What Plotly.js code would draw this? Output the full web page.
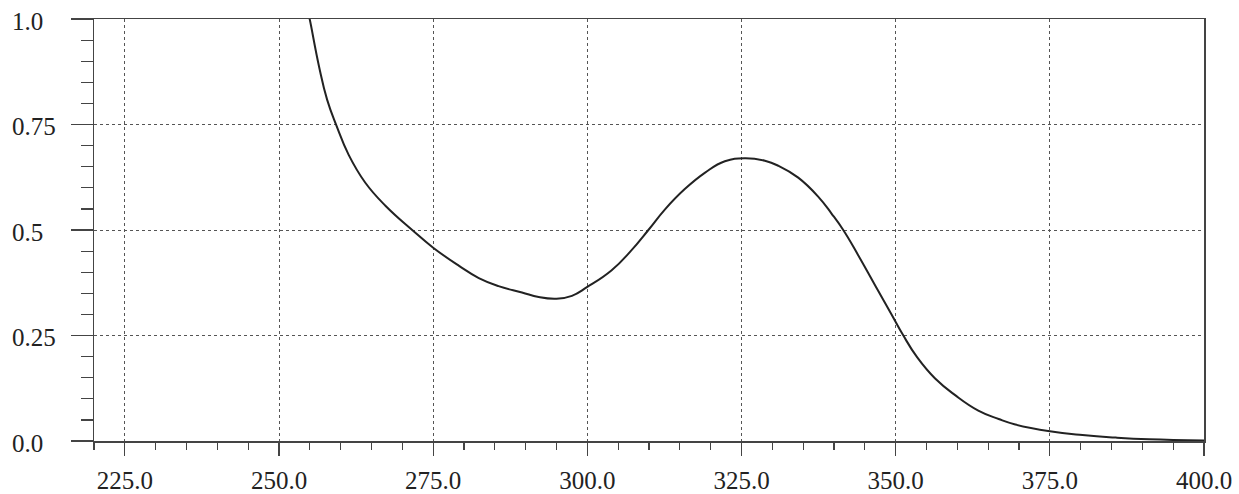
<!DOCTYPE html>
<html>
<head>
<meta charset="utf-8">
<script src="https://cdn.plot.ly/plotly-3.0.1.min.js"></script>
<style>html,body{margin:0;padding:0;background:#fff;}#chart{width:1239px;height:494px;}</style>
</head>
<body>
<div id="chart"></div>
<script>
// Absorption spectrum (wavelength, absorbance)
const wavelength = [254.8, 255.0, 256.5, 257.8, 259.3, 261.3, 264.0, 267.3, 271.6, 275.0,
  279.2, 282.4, 285.6, 289.4, 292.1, 295.0, 297.5, 300.0, 303.9, 307.1,
  309.9, 312.6, 315.8, 319.1, 322.3, 325.6, 328.8, 331.0, 334.2, 337.5,
  339.6, 341.5, 343.9, 346.7, 349.4, 351.2, 353.5, 356.4, 359.7, 363.4,
  366.7, 369.4, 375.0, 380.3, 385.7, 391.1, 400.0];
const absorbance = [1.01, 0.998, 0.887, 0.809, 0.748, 0.678, 0.612, 0.557, 0.500, 0.458,
  0.415, 0.386, 0.367, 0.352, 0.341, 0.337, 0.344, 0.365, 0.404, 0.451,
  0.500, 0.549, 0.597, 0.636, 0.663, 0.670, 0.664, 0.652, 0.624, 0.578,
  0.539, 0.500, 0.441, 0.368, 0.298, 0.251, 0.198, 0.148, 0.108, 0.072,
  0.052, 0.039, 0.023, 0.014, 0.008, 0.004, 0.001];
const xTickVals = [225, 250, 275, 300, 325, 350, 375, 400];
const xTickText = ["225.0", "250.0", "275.0", "300.0", "325.0", "350.0", "375.0", "400.0"];
const yTickVals = [0, 0.25, 0.5, 0.75, 1.0];
const yTickText = ["0.0", "0.25", "0.5", "0.75", "1.0"];

const FONT = "Liberation Serif, Times New Roman, serif";
const W = 1239, H = 494, L = 94, R = 35, T = 19, B = 53;
const plotW = W - L - R;

const yLabels = yTickVals.map((v, i) => ({
  xref: 'paper', yref: 'y', x: (10 - L) / plotW, y: v,
  xanchor: 'left', yanchor: 'middle', yshift: -2,
  text: yTickText[i], showarrow: false,
  font: {family: FONT, size: 25, color: '#222'}
}));

const data = [{
  x: wavelength, y: absorbance, type: 'scatter', mode: 'lines',
  line: {color: '#222', width: 2, shape: 'spline', smoothing: 1.3},
  hoverinfo: 'skip'
}];

const layout = {
  width: W, height: H,
  margin: {l: L, r: R, t: T, b: B, pad: 0},
  paper_bgcolor: '#fff', plot_bgcolor: '#fff',
  showlegend: false,
  font: {family: FONT, size: 25, color: '#222'},
  xaxis: {
    range: [220, 400], autorange: false,
    tickvals: xTickVals, ticktext: xTickText,
    ticks: 'outside', ticklen: 13, tickwidth: 1.2, tickcolor: '#444',
    ticklabelstandoff: 3,
    showline: true, linecolor: '#444', linewidth: 1.5, mirror: true,
    showgrid: true, gridcolor: '#555', griddash: 'dot', gridwidth: 1,
    zeroline: false,
    minor: {dtick: 5, tick0: 220, ticks: 'outside', ticklen: 7, tickwidth: 1.2, tickcolor: '#444', showgrid: false},
    tickfont: {family: FONT, size: 25, color: '#222'},
    automargin: false, fixedrange: true
  },
  yaxis: {
    range: [0, 1], autorange: false,
    tickvals: yTickVals, ticktext: yTickText, showticklabels: false,
    ticks: 'outside', ticklen: 22, tickwidth: 1.2, tickcolor: '#444',
    showline: true, linecolor: '#444', linewidth: 1.5, mirror: true,
    showgrid: true, gridcolor: '#555', griddash: 'dot', gridwidth: 1,
    zeroline: false,
    minor: {dtick: 0.05, tick0: 0, ticks: 'outside', ticklen: 12, tickwidth: 1.2, tickcolor: '#444', showgrid: false},
    automargin: false, fixedrange: true
  },
  annotations: yLabels
};

Plotly.newPlot('chart', data, layout, {displayModeBar: false, staticPlot: true});
</script>
</body>
</html>
